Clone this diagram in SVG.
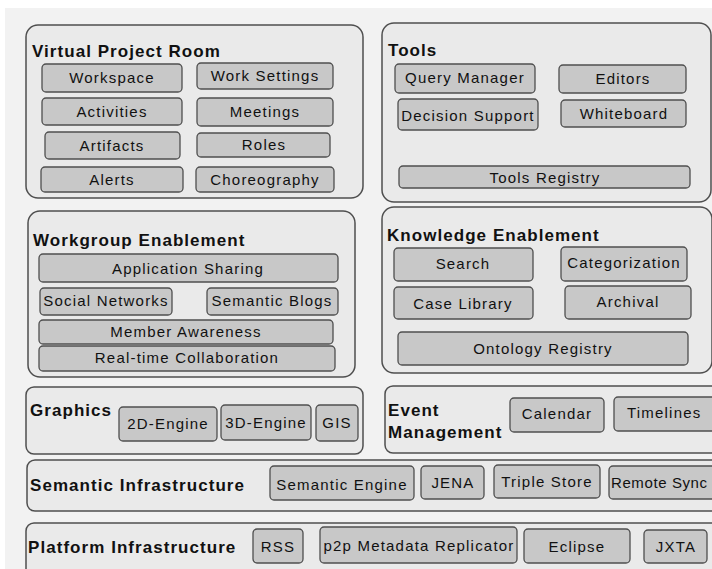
<svg xmlns="http://www.w3.org/2000/svg" width="712" height="569" viewBox="0 0 712 569">
<style>
.c{fill:#eaeaea;stroke:#4f4f4f;stroke-width:1.5}
.b{fill:#c8c8c8;stroke:#4f4f4f;stroke-width:1.3}
.t{font-family:"Liberation Sans",Arial,sans-serif;font-weight:bold;font-size:17px;letter-spacing:1.05px;fill:#111}
.l{font-family:"Liberation Sans",Arial,sans-serif;font-size:15px;letter-spacing:1.2px;fill:#111;text-anchor:middle}
.ls{font-family:"Liberation Sans",Arial,sans-serif;font-size:15px;letter-spacing:1.2px;fill:#111}
</style>
<rect x="0" y="0" width="712" height="569" fill="#ffffff"/>
<rect x="5" y="8" width="707" height="561" fill="#f2f2f2"/>
<g id="connectors"/>

<g id="virtual-project-room">
<rect class="c" x="26" y="25" width="337" height="173" rx="12"/>
<text class="t" x="32" y="57">Virtual Project Room</text>
<g id="workspace"><rect class="b" x="42" y="64" width="140" height="28" rx="4"/><text class="l" x="112" y="83">Workspace</text></g>
<g id="work-settings"><rect class="b" x="197" y="63" width="136" height="26" rx="4"/><text class="l" x="265" y="81">Work Settings</text></g>
<g id="activities"><rect class="b" x="42" y="98" width="140" height="27" rx="4"/><text class="l" x="112" y="117">Activities</text></g>
<g id="meetings"><rect class="b" x="197" y="98" width="136" height="28" rx="4"/><text class="l" x="265" y="117">Meetings</text></g>
<g id="artifacts"><rect class="b" x="45" y="132" width="135" height="27" rx="4"/><text class="l" x="112" y="151">Artifacts</text></g>
<g id="roles"><rect class="b" x="197" y="133" width="133" height="24" rx="4"/><text class="l" x="264" y="150">Roles</text></g>
<g id="alerts"><rect class="b" x="41" y="167" width="142" height="25" rx="4"/><text class="l" x="112" y="185">Alerts</text></g>
<g id="choreography"><rect class="b" x="196" y="167" width="138" height="25" rx="4"/><text class="l" x="265" y="185">Choreography</text></g>
</g>

<g id="tools">
<rect class="c" x="382" y="23" width="329" height="179" rx="12"/>
<text class="t" x="388" y="56">Tools</text>
<g id="query-manager"><rect class="b" x="395" y="64" width="140" height="29" rx="4"/><text class="l" x="465" y="83">Query Manager</text></g>
<g id="editors"><rect class="b" x="559" y="65" width="127" height="28" rx="4"/><text class="l" x="623" y="84">Editors</text></g>
<g id="decision-support"><rect class="b" x="398" y="99" width="140" height="31" rx="4"/><text class="l" x="468" y="121">Decision Support</text></g>
<g id="whiteboard"><rect class="b" x="561" y="100" width="125" height="27" rx="4"/><text class="l" x="624" y="119">Whiteboard</text></g>
<g id="tools-registry"><rect class="b" x="399" y="166" width="291" height="22" rx="4"/><text class="l" x="545" y="183">Tools Registry</text></g>
</g>

<g id="workgroup-enablement">
<rect class="c" x="28" y="211" width="327" height="166" rx="12"/>
<text class="t" x="33" y="246">Workgroup Enablement</text>
<g id="application-sharing"><rect class="b" x="39" y="254" width="299" height="28" rx="4"/><text class="l" x="188" y="274">Application Sharing</text></g>
<g id="social-networks"><rect class="b" x="40" y="288" width="132" height="27" rx="4"/><text class="l" x="106" y="306">Social Networks</text></g>
<g id="semantic-blogs"><rect class="b" x="207" y="288" width="131" height="27" rx="4"/><text class="l" x="272" y="306">Semantic Blogs</text></g>
<g id="member-awareness"><rect class="b" x="39" y="320" width="294" height="24" rx="4"/><text class="l" x="186" y="337">Member Awareness</text></g>
<g id="real-time-collaboration"><rect class="b" x="39" y="346" width="296" height="25" rx="4"/><text class="l" x="187" y="363">Real-time Collaboration</text></g>
</g>

<g id="knowledge-enablement">
<rect class="c" x="382" y="207" width="330" height="166" rx="12"/>
<text class="t" x="387" y="241">Knowledge Enablement</text>
<g id="search"><rect class="b" x="394" y="248" width="139" height="33" rx="4"/><text class="l" x="463" y="269">Search</text></g>
<g id="categorization"><rect class="b" x="561" y="247" width="126" height="34" rx="4"/><text class="l" x="624" y="268">Categorization</text></g>
<g id="case-library"><rect class="b" x="394" y="287" width="139" height="32" rx="4"/><text class="l" x="463" y="309">Case Library</text></g>
<g id="archival"><rect class="b" x="565" y="286" width="126" height="33" rx="4"/><text class="l" x="628" y="307">Archival</text></g>
<g id="ontology-registry"><rect class="b" x="398" y="332" width="290" height="33" rx="4"/><text class="l" x="543" y="354">Ontology Registry</text></g>
</g>

<g id="graphics">
<rect class="c" x="26" y="387" width="337" height="67" rx="8"/>
<text class="t" x="30" y="416">Graphics</text>
<g id="engine-2d"><rect class="b" x="119" y="407" width="98" height="34" rx="4"/><text class="l" x="168" y="429">2D-Engine</text></g>
<g id="engine-3d"><rect class="b" x="221" y="405" width="90" height="35" rx="4"/><text class="l" x="266" y="428">3D-Engine</text></g>
<g id="gis"><rect class="b" x="316" y="405" width="42" height="36" rx="4"/><text class="l" x="337" y="428">GIS</text></g>
</g>

<g id="event-management">
<rect class="c" x="385" y="386" width="340" height="67" rx="8"/>
<text class="t" x="388" y="416">Event</text>
<text class="t" x="388" y="438">Management</text>
<g id="calendar"><rect class="b" x="510" y="398" width="94" height="34" rx="4"/><text class="l" x="557" y="419">Calendar</text></g>
<g id="timelines"><rect class="b" x="614" y="397" width="110" height="34" rx="4"/><text class="ls" x="627" y="418">Timelines</text></g>
</g>

<g id="semantic-infrastructure">
<rect class="c" x="27" y="460" width="700" height="51" rx="8"/>
<text class="t" x="30" y="491">Semantic Infrastructure</text>
<g id="semantic-engine"><rect class="b" x="270" y="466" width="144" height="34" rx="4"/><text class="l" x="342" y="490">Semantic Engine</text></g>
<g id="jena"><rect class="b" x="421" y="466" width="63" height="33" rx="4"/><text class="l" x="453" y="488">JENA</text></g>
<g id="triple-store"><rect class="b" x="494" y="465" width="106" height="33" rx="4"/><text class="l" x="547" y="487">Triple Store</text></g>
<g id="remote-sync"><rect class="b" x="609" y="466" width="120" height="33" rx="4"/><text class="ls" x="611" y="488" style="letter-spacing:0.6px">Remote Sync</text></g>
</g>

<g id="platform-infrastructure">
<rect class="c" x="26" y="523" width="700" height="60" rx="8"/>
<text class="t" x="28" y="553">Platform Infrastructure</text>
<g id="rss"><rect class="b" x="253" y="529" width="50" height="34" rx="4"/><text class="l" x="278" y="552">RSS</text></g>
<g id="p2p-metadata-replicator"><rect class="b" x="320" y="527" width="197" height="36" rx="4"/><text class="l" x="419" y="551">p2p Metadata Replicator</text></g>
<g id="eclipse"><rect class="b" x="524" y="529" width="106" height="34" rx="4"/><text class="l" x="577" y="552">Eclipse</text></g>
<g id="jxta"><rect class="b" x="644" y="530" width="63" height="33" rx="4"/><text class="l" x="676" y="552">JXTA</text></g>
</g>
</svg>
